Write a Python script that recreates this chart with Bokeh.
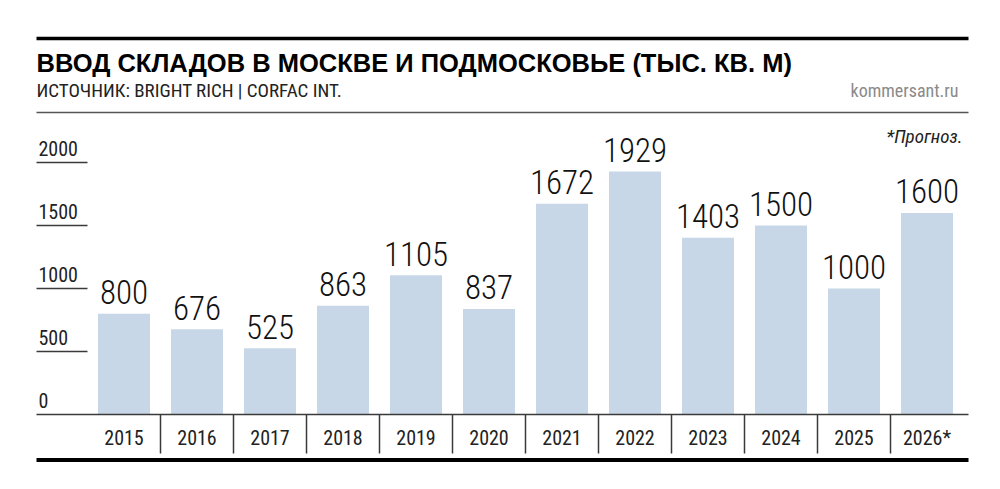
from bokeh.plotting import figure
from bokeh.models import Range1d
from bokeh.core.properties import value
from bokeh.embed import file_html
from bokeh.resources import INLINE

# ---- data ----
years = ["2015", "2016", "2017", "2018", "2019", "2020", "2021", "2022", "2023", "2024", "2025", "2026*"]
values = [800, 676, 525, 863, 1105, 837, 1672, 1929, 1403, 1500, 1000, 1600]
ticks = [0, 500, 1000, 1500, 2000]
tick_labels = ["0", "500", "1000", "1500", "2000"]

title_text = "ВВОД СКЛАДОВ В МОСКВЕ И ПОДМОСКОВЬЕ (ТЫС. КВ. М)"
source_text = "ИСТОЧНИК: BRIGHT RICH | CORFAC INT."
brand_text = "kommersant.ru"
note_text = "*Прогноз."

# ---- layout (reference pixel geometry) ----
W, H, M = 984, 473, 0
CAT_PX = 73.0          # width of one category in px
CAT0_PX = 87.0         # left edge of first category (page px)
ZERO_PX = 414.0        # baseline (page px)
PX_PER_UNIT = 63.0 / 500.0
BASE_FIX = 0.38        # empirical baseline correction (em)

def dx(px):
    return (px - CAT0_PX) / CAT_PX

def dy(py):
    return (ZERO_PX - py) / PX_PER_UNIT

def gap(px):
    return px / PX_PER_UNIT

COND = "Roboto Condensed"
COND_LIGHT = "Roboto Condensed Light"
BAR_COLOR = "#c7d7e7"
INK = "#222222"
RULE = "#3a3a3a"

p = figure(width=W, height=H, output_backend="svg", toolbar_location=None,
           x_range=Range1d(dx(M), dx(M + W)), y_range=Range1d(dy(M + H), dy(M)),
           x_axis_location=None, y_axis_location=None, min_border=0,
           outline_line_color=None, background_fill_color="white",
           border_fill_color="white")
p.xgrid.visible = False
p.ygrid.visible = False

centers = [i + 0.5 for i in range(len(years))]

# bars
p.vbar(x=centers, top=values, bottom=0, width=52.0 / CAT_PX,
       fill_color=BAR_COLOR, line_color=None)

# value labels
VS = 33
p.text(x=centers, y=[v + gap(9 + BASE_FIX * VS) for v in values], text=[str(v) for v in values],
       text_align="center", text_baseline="alphabetic",
       text_font=value(COND_LIGHT), text_font_size=f"{VS}px", text_color="#111111")

# y tick lines and labels
TS = 20
p.segment(x0=[dx(36)] * (len(ticks) - 1), x1=[dx(87)] * (len(ticks) - 1),
          y0=ticks[1:], y1=ticks[1:], line_color=RULE, line_width=1.5)
p.text(x=[dx(38)] * len(ticks), y=[t + gap(6 + BASE_FIX * TS) for t in ticks], text=tick_labels,
       text_align="left", text_baseline="alphabetic",
       text_font=value(COND), text_font_size=f"{TS}px", text_color=INK)

# baseline
p.segment(x0=[dx(36)], x1=[dx(968)], y0=[0], y1=[0], line_color=RULE, line_width=1.5)

# category separators
bounds = list(range(1, len(years)))
p.segment(x0=bounds, x1=bounds, y0=[0] * len(bounds), y1=[dy(453)] * len(bounds),
          line_color=RULE, line_width=1.5)

# year labels
p.text(x=centers, y=[dy(445 - BASE_FIX * TS)] * len(years), text=years,
       text_align="center", text_baseline="alphabetic",
       text_font=value(COND), text_font_size=f"{TS}px", text_color=INK)

# rules
p.segment(x0=[dx(36)], x1=[dx(968)], y0=[dy(38)], y1=[dy(38)], line_color="black", line_width=3.5)
p.segment(x0=[dx(36)], x1=[dx(968)], y0=[dy(112)], y1=[dy(112)], line_color="#555555", line_width=1.5)
p.segment(x0=[dx(36)], x1=[dx(968)], y0=[dy(459.5)], y1=[dy(459.5)], line_color="black", line_width=4)

# header texts
HS = 25.5
p.text(x=[dx(36)], y=[dy(72 - BASE_FIX * HS)], text=[title_text], text_align="left",
       text_baseline="alphabetic",
       text_font=value("Liberation Sans"), text_font_style="bold", text_font_size=f"{HS}px",
       text_color="black")
SS = 19
p.text(x=[dx(36)], y=[dy(97 - BASE_FIX * SS)], text=[source_text], text_align="left",
       text_baseline="alphabetic",
       text_font=value(COND), text_font_size=f"{SS}px", text_color=INK)
p.text(x=[dx(958)], y=[dy(97 - BASE_FIX * 18)], text=[brand_text], text_align="right",
       text_baseline="alphabetic",
       text_font=value(COND), text_font_size="18px", text_color="#8a8a8a")
p.text(x=[dx(962)], y=[dy(143 - BASE_FIX * SS)], text=[note_text], text_align="right",
       text_baseline="alphabetic",
       text_font=value(COND), text_font_style="italic", text_font_size=f"{SS}px", text_color=INK)

open("out.html", "w").write(file_html(p, INLINE))
